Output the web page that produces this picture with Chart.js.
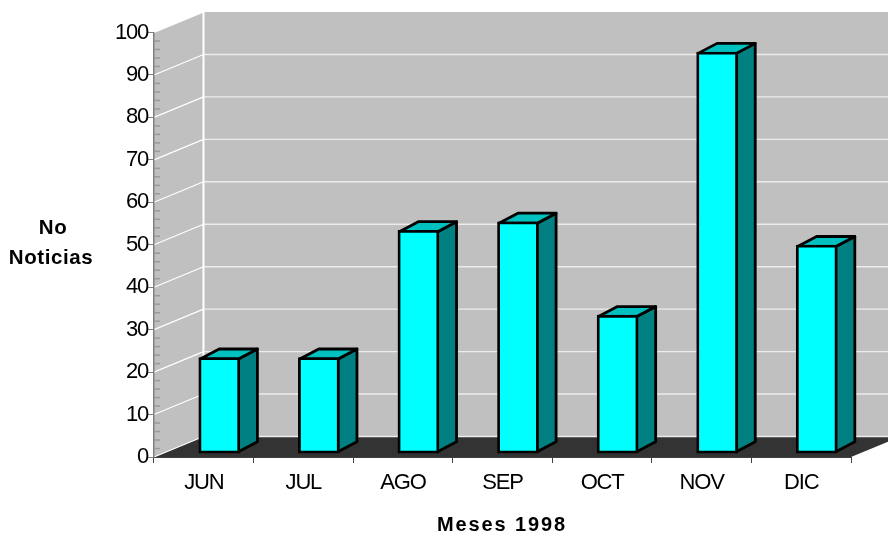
<!DOCTYPE html>
<html>
<head>
<meta charset="utf-8">
<style>html,body{margin:0;padding:0;background:#fff}canvas{display:block}</style>
<script src="https://cdn.jsdelivr.net/npm/chart.js@4/dist/chart.umd.min.js"></script>
</head>
<body>
<canvas id="c" width="888" height="535"></canvas>
<script>
const categories = ['JUN','JUL','AGO','SEP','OCT','NOV','DIC'];
const noticias = [22, 22, 52, 54, 32, 94, 48.5];
const yTitleLines = ['No','Noticias'];
const xTitle = 'Meses 1998';

const FONT = '"Liberation Sans", Arial, sans-serif';
const wall = {dx:49.5, dy:20.5};
const bar3d = {dx:19, dy:10, shiftX:15.5, shiftY:6};

function poly(ctx, pts, fill, stroke, lw){
  ctx.beginPath();
  pts.forEach((p,i)=> i?ctx.lineTo(p[0],p[1]):ctx.moveTo(p[0],p[1]));
  ctx.closePath();
  if(fill){ctx.fillStyle=fill;ctx.fill();}
  if(stroke){ctx.strokeStyle=stroke;ctx.lineWidth=lw;ctx.lineJoin='round';ctx.stroke();}
}

const scene = {
  id:'scene',
  beforeDraw(chart){
    const {ctx,scales:{x,y}} = chart;
    const L=x.left,R=x.right,T=y.getPixelForValue(100),B=y.getPixelForValue(0);
    ctx.save();
    poly(ctx,[[L+wall.dx,T-wall.dy],[R+wall.dx,T-wall.dy],[R+wall.dx,B-wall.dy],[L+wall.dx,B-wall.dy]],'#c0c0c0');
    poly(ctx,[[L,T],[L+wall.dx,T-wall.dy],[L+wall.dx,B-wall.dy],[L,B]],'#c0c0c0');
    poly(ctx,[[L,B],[R,B],[R+wall.dx,B-wall.dy],[L+wall.dx,B-wall.dy]],'#333333');
    y.ticks.forEach(t=>{
      const py=y.getPixelForValue(t.value);
      ctx.beginPath();
      ctx.moveTo(L,py);ctx.lineTo(L+wall.dx,py-wall.dy);
      ctx.strokeStyle='#ffffff';ctx.lineWidth=1.2;ctx.stroke();
      if(t.value<100){
        ctx.beginPath();
        ctx.moveTo(L+wall.dx,py-wall.dy);ctx.lineTo(R+wall.dx,py-wall.dy);
        ctx.strokeStyle='#ececec';ctx.lineWidth=1.4;ctx.stroke();
      }
    });
    ctx.beginPath();
    ctx.moveTo(L+wall.dx,T-wall.dy);ctx.lineTo(L+wall.dx,B-wall.dy);
    ctx.strokeStyle='#ffffff';ctx.lineWidth=2;ctx.stroke();
    ctx.restore();
    ctx.letterSpacing='-1.2px';
  },
  beforeDatasetsDraw(chart){
    const {ctx,scales:{x,y}} = chart;
    ctx.save();
    ctx.strokeStyle='#9a9a9a';ctx.lineWidth=1.5;
    for(let v=2;v<100;v+=2){
      if(v%10===0) continue;
      const py=y.getPixelForValue(v);
      ctx.beginPath();ctx.moveTo(x.left,py);ctx.lineTo(x.left+6,py);ctx.stroke();
    }
    ctx.restore();
  },
  beforeDatasetDraw(chart,args){
    const ctx=chart.ctx;
    ctx.save();
    ctx.translate(bar3d.shiftX,-bar3d.shiftY);
    args.meta.data.forEach(b=>{
      const l=b.x-b.width/2+1.4,r=b.x+b.width/2-1.4,t=b.y+1.4,bt=b.base-1.4;
      poly(ctx,[[r,t],[r+bar3d.dx,t-bar3d.dy],[r+bar3d.dx,bt-bar3d.dy],[r,bt]],'#008080','#000',2.8);
      poly(ctx,[[l,t],[l+bar3d.dx,t-bar3d.dy],[r+bar3d.dx,t-bar3d.dy],[r,t]],'#00c0c0','#000',2.8);
    });
  },
  afterDatasetDraw(chart){ chart.ctx.restore(); },
  afterDraw(chart){
    const ctx=chart.ctx;
    ctx.save();
    ctx.fillStyle='#000';
    ctx.textAlign='center';ctx.textBaseline='middle';
    ctx.font='bold 20.5px '+FONT;
    ctx.letterSpacing='0.6px';
    ctx.fillText(yTitleLines[0],53,228);
    ctx.fillText(yTitleLines[1],51,258);
    ctx.font='bold 20px '+FONT;
    ctx.letterSpacing='1.9px';
    ctx.fillText(xTitle,502,525);
    ctx.restore();
  }
};

new Chart(document.getElementById('c'),{
  type:'bar',
  data:{labels:categories,datasets:[{
    label:'No Noticias',
    data:noticias,
    base:-0.5,
    backgroundColor:'#00ffff',
    borderColor:'#000000',
    borderWidth:2.8,
    borderSkipped:false,
    barThickness:41,
    clip:false
  }]},
  options:{
    responsive:false,
    animation:false,
    devicePixelRatio:1,
    layout:{padding:{top:32.5,right:37,left:0,bottom:0}},
    plugins:{legend:{display:false},tooltip:{enabled:false},title:{display:false}},
    scales:{
      x:{
        afterFit(s){s.height=78;},
        grid:{drawOnChartArea:false,drawTicks:true,tickLength:6,tickColor:'#404040',tickWidth:1},
        border:{color:'#404040',width:1},
        ticks:{color:'#000',font:{family:FONT,size:22},padding:7,maxRotation:0}
      },
      y:{
        min:0,max:100,
        afterFit(s){s.width=154;},
        grid:{drawOnChartArea:false,drawTicks:true,tickLength:6,tickColor:'#808080',tickWidth:1},
        border:{color:'#808080',width:1.5},
        ticks:{stepSize:10,color:'#000',font:{family:FONT,size:22},padding:0}
      }
    }
  },
  plugins:[scene]
});
</script>
</body>
</html>
